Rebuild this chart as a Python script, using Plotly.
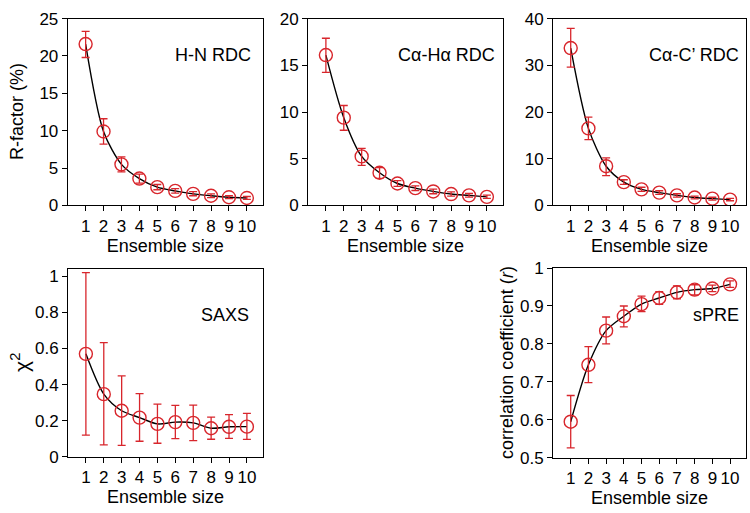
import plotly.graph_objects as go

ensemble = [1, 2, 3, 4, 5, 6, 7, 8, 9, 10]

hn_val = [21.6, 9.9, 5.5, 3.6, 2.45, 1.95, 1.55, 1.3, 1.1, 1.0]
hn_hi = [23.3, 11.6, 6.5, 4.2, 2.8, 2.25, 1.85, 1.55, 1.3, 1.2]
hn_lo = [19.8, 8.2, 4.5, 3.0, 2.1, 1.65, 1.3, 1.05, 0.9, 0.8]

caha_val = [16.1, 9.4, 5.25, 3.5, 2.35, 1.85, 1.5, 1.22, 1.08, 0.92]
caha_hi = [17.9, 10.7, 6.1, 4.05, 2.65, 2.1, 1.75, 1.45, 1.28, 1.1]
caha_lo = [14.25, 8.05, 4.3, 2.9, 2.05, 1.6, 1.25, 1.0, 0.88, 0.75]

cac_val = [33.7, 16.5, 8.4, 5.0, 3.45, 2.75, 2.15, 1.7, 1.45, 1.25]
cac_hi = [37.9, 18.9, 10.2, 5.5, 3.9, 3.15, 2.5, 2.0, 1.75, 1.5]
cac_lo = [29.6, 14.1, 6.4, 4.5, 3.0, 2.35, 1.8, 1.4, 1.15, 1.0]

saxs_val = [0.57, 0.347, 0.255, 0.217, 0.182, 0.192, 0.188, 0.158, 0.166, 0.167]
saxs_hi = [1.02, 0.632, 0.448, 0.35, 0.292, 0.285, 0.286, 0.22, 0.234, 0.24]
saxs_lo = [0.12, 0.066, 0.063, 0.086, 0.075, 0.101, 0.089, 0.097, 0.102, 0.096]

spre_val = [0.595, 0.745, 0.835, 0.873, 0.905, 0.921, 0.936, 0.943, 0.946, 0.957]
spre_hi = [0.664, 0.793, 0.871, 0.900, 0.926, 0.938, 0.953, 0.956, 0.955, 0.966]
spre_lo = [0.526, 0.698, 0.800, 0.845, 0.885, 0.904, 0.919, 0.929, 0.938, 0.949]

panel_labels = ["H-N RDC", "Cα-Hα RDC", "Cα-C’ RDC", "SAXS", "sPRE"]
y_titles = ["R-factor (%)", "", "", "χ<sup>2</sup>", "correlation coefficient (<i>r</i>)"]
y_title_sizes = [18, 0, 0, 21, 18]
y_ranges = [[0, 25], [0, 20], [0, 40], [0, 1.04], [0.5, 1.0]]
y_tickvals = [
    [0, 5, 10, 15, 20, 25],
    [0, 5, 10, 15, 20],
    [0, 10, 20, 30, 40],
    [0, 0.2, 0.4, 0.6, 0.8, 1],
    [0.5, 0.6, 0.7, 0.8, 0.9, 1.0],
]
y_ticktext = [
    ["0", "5", "10", "15", "20", "25"],
    ["0", "5", "10", "15", "20"],
    ["0", "10", "20", "30", "40"],
    ["0", "0.2", "0.4", "0.6", "0.8", "1"],
    ["0.5", "0.6", "0.7", "0.8", "0.9", "1"],
]
x_tick_labels = [str(v) for v in ensemble]

RED = "#d8262c"
W, H = 750, 513
FONT = "Liberation Sans, Arial, sans-serif"

# panel boxes in pixels: (left, right, top, bottom)
boxes = [
    (67.7, 263, 10, 204),
    (308, 503, 10, 204),
    (553, 746, 10, 204),
    (68, 263, 270, 465),
    (553, 746, 269, 466),
]

series = [
    (hn_val, hn_hi, hn_lo),
    (caha_val, caha_hi, caha_lo),
    (cac_val, cac_hi, cac_lo),
    (saxs_val, saxs_hi, saxs_lo),
    (spre_val, spre_hi, spre_lo),
]

fig = go.Figure()
layout = dict(
    width=W, height=H, margin=dict(l=0, r=0, t=0, b=0),
    plot_bgcolor="white", paper_bgcolor="white", showlegend=False,
    font=dict(family=FONT, size=17, color="black"),
    annotations=[],
)

label_pos = [(253, 48), (497, 48), (741, 48), (251, 318), (741, 318)]
ytitle_x = [17, None, None, 20, 507]

for i, ((val, hi, lo), box) in enumerate(zip(series, boxes)):
    n = i + 1
    xa = "x" if n == 1 else f"x{n}"
    ya = "y" if n == 1 else f"y{n}"
    plus = [h - v for h, v in zip(hi, val)]
    minus = [v - l for v, l in zip(val, lo)]
    fig.add_trace(go.Scatter(
        x=ensemble, y=val, mode="lines",
        line=dict(color="black", width=1.4, shape="spline", smoothing=0.8),
        xaxis=xa, yaxis=ya, hoverinfo="skip"))
    fig.add_trace(go.Scatter(
        x=ensemble, y=val, mode="markers",
        marker=dict(symbol="circle-open", size=13, color=RED, line=dict(color=RED, width=1.4)),
        error_y=dict(type="data", symmetric=False, array=plus, arrayminus=minus,
                     color=RED, thickness=1.3, width=4),
        xaxis=xa, yaxis=ya))
    l, r, t, b = box
    xkey = "xaxis" if n == 1 else f"xaxis{n}"
    ykey = "yaxis" if n == 1 else f"yaxis{n}"
    layout[xkey] = dict(
        domain=[l / W, r / W], range=[0, 10.9], anchor=ya,
        tickmode="array", tickvals=ensemble, ticktext=x_tick_labels,
        ticks="outside", ticklen=5, tickwidth=1, tickcolor="black",
        showline=True, linecolor="black", linewidth=1, mirror=True,
        showgrid=False, zeroline=False,
        title=dict(text="Ensemble size", font=dict(size=18), standoff=0),
        tickfont=dict(size=17),
    )
    layout[ykey] = dict(
        domain=[1 - b / H, 1 - t / H], range=y_ranges[i], anchor=xa,
        tickmode="array", tickvals=y_tickvals[i], ticktext=y_ticktext[i],
        ticks="outside", ticklen=5, tickwidth=1, tickcolor="black",
        showline=True, linecolor="black", linewidth=1, mirror=True,
        showgrid=False, zeroline=False, tickfont=dict(size=17),
    )
    lx, ly = label_pos[i]
    layout["annotations"].append(dict(
        text=panel_labels[i], x=lx / W, y=1 - ly / H, xref="paper", yref="paper",
        xanchor="right", yanchor="middle", showarrow=False, font=dict(size=18)))
    if y_titles[i]:
        layout["annotations"].append(dict(
            text=y_titles[i], x=ytitle_x[i] / W, y=1 - ((t + b) / 2) / H,
            xref="paper", yref="paper",
            xanchor="center", yanchor="middle", textangle=-90, showarrow=False,
            font=dict(size=y_title_sizes[i])))

fig.update_layout(**layout)
fig.write_html("out.html", config={"displayModeBar": False},
               post_script="document.body.style.margin='0';document.body.style.overflow='hidden';")
